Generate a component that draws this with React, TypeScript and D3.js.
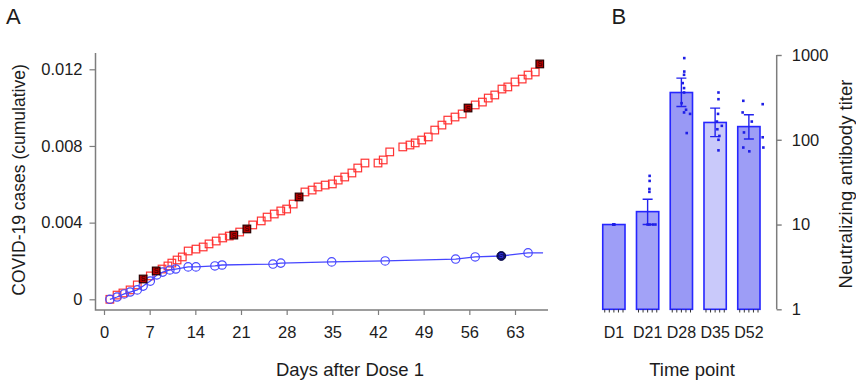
import { useRef, useEffect } from "react"
import * as d3 from "d3"

const WIDTH = 856
const HEIGHT = 381
const FONT = "'Liberation Sans', Arial, Helvetica, sans-serif"
const INK = "#1c1c1c"
const AXIS = "#7d7d7d"

// ── Panel A: cumulative COVID-19 cases ───────────────────────────────────
const placeboDays = [
  0.9, 2.0, 2.9, 4.0, 5.1, 6.0, 7.1, 8.0, 8.9, 9.8, 10.4, 11.2, 12.0, 12.9,
  14.1, 15.2, 16.1, 17.2, 18.2, 19.2, 19.9, 20.8, 21.9, 22.8, 24.1, 25.0,
  26.1, 27.1, 28.0, 29.0, 29.9, 30.8, 31.9, 32.8, 33.9, 35.0, 35.9, 36.9,
  38.0, 38.9, 40.0, 42.0, 42.8, 43.8, 45.8, 46.9, 47.7, 48.7, 49.7, 50.7,
  51.8, 52.7, 53.8, 54.9, 55.8, 56.9, 58.0, 58.9, 59.9, 61.0, 61.9, 63.0,
  64.1, 65.0, 66.1, 66.8,
]
const placeboCases = [
  0.0, 0.00022, 0.00033, 0.00049, 0.00075, 0.00106, 0.00122, 0.00148,
  0.00158, 0.00174, 0.00189, 0.00205, 0.00221, 0.00252, 0.00262, 0.00273,
  0.00289, 0.00304, 0.0032, 0.0033, 0.00335, 0.00351, 0.00367, 0.00388,
  0.00409, 0.00429, 0.00445, 0.00461, 0.00471, 0.00497, 0.00534, 0.0056,
  0.0057, 0.00586, 0.00596, 0.00602, 0.00622, 0.00638, 0.00659, 0.00685,
  0.00711, 0.00711, 0.00727, 0.00769, 0.00795, 0.00805, 0.00816, 0.00831,
  0.00847, 0.00883, 0.00909, 0.00935, 0.00951, 0.00967, 0.00998, 0.01014,
  0.01029, 0.0105, 0.01066, 0.01097, 0.01108, 0.01134, 0.01149, 0.0117,
  0.01186, 0.01228,
]
const placeboSevereDays = [6.0, 8.0, 19.9, 21.9, 29.9, 55.8, 66.8]

const vaccineDays = [
  0.9, 2.0, 3.1, 4.0, 5.1, 6.0, 7.1, 8.1, 9.0, 10.1, 11.0, 12.9, 14.1, 17.0,
  18.1, 25.9, 27.1, 34.9, 43.1, 53.9, 56.9, 60.9, 65.0,
]
const vaccineCases = [
  0.0, 0.00012, 0.00028, 0.00038, 0.00049, 0.00069, 0.00095, 0.00127,
  0.00142, 0.00153, 0.00158, 0.00169, 0.00169, 0.00174, 0.00179, 0.00184,
  0.00189, 0.00195, 0.002, 0.0021, 0.00221, 0.00226, 0.00242,
]
const vaccineSevereDays = [60.9]
const followUpEnd = 67.3

const dayTicks = [0, 7, 14, 21, 28, 35, 42, 49, 56, 63]
const caseTicks = [0, 0.004, 0.008, 0.012]

// ── Panel B: neutralizing antibody titer ─────────────────────────────────
const timePoints = ["D1", "D21", "D28", "D35", "D52"]
const titerMean = [10, 14.2, 361, 160, 143]
const titerLow = [NaN, 10, 247, 109, 102]
const titerHigh = [NaN, 19.9, 534, 236, 197]
const titerTicks = [1, 10, 100, 1000]

const titersD1 = [10, 10, 10, 10, 10, 10]
const titersD21 = [37.5, 32.7, 26.3, 24.3, 10, 10, 10, 10]
const titersD28 = [919, 638, 584, 466, 407, 361, 270, 226, 210, 202, 120]
const titersD35 = [361, 301, 202, 164, 146, 133, 111, 100, 75]
const titersD52 = [288, 263, 210, 164, 122, 107, 81, 73, 81]
// horizontal jitter, as a fraction of the bar width
const jitterD1 = [0, 0, 0, 0, 0, 0]
const jitterD21 = [0.09, 0.09, 0.08, 0.08, 0, 0.09, 0.24, 0.35]
const jitterD28 = [0.13, 0.13, 0.12, 0.06, 0.12, 0.12, 0.01, 0.21, 0.12, 0.39, 0.24]
const jitterD35 = [0.15, 0.15, 0.13, 0.08, 0.3, 0.1, 0.19, 0.15, 0.15]
const jitterD52 = [-0.25, 0.62, -0.28, 0.13, -0.22, 0.62, -0.25, 0.02, 0.65]
const titerPoints = [titersD1, titersD21, titersD28, titersD35, titersD52]
const titerJitter = [jitterD1, jitterD21, jitterD28, jitterD35, jitterD52]
const barFills = ["#9e9ef7", "#a2a2f7", "#9999f5", "#c9c9fa", "#9d9df6"]

export default function App() {
  const svgRef = useRef<SVGSVGElement>(null)

  useEffect(() => {
    const svg = svgRef.current
    if (!svg) return
    const root = d3.select(svg)
    root.selectAll("*").remove()

    // ── Panel A scales ────────────────────────────────────────────────────
    const xA = d3.scaleLinear().domain([0, 63]).range([104, 515])
    const yA = d3.scaleLinear().domain([0, 0.012]).range([299.3, 69.3])
    const baseA = 310
    const leftA = 95.5

    // axes
    root.append("g")
      .attr("transform", `translate(0,${baseA})`)
      .call(d3.axisBottom(xA).tickValues(dayTicks).tickSize(5).tickPadding(11))
      .call((g) => g.select(".domain").remove())
      .call((g) => g.selectAll(".tick line").attr("stroke", AXIS).attr("stroke-width", 1.2))
      .call((g) => g.selectAll("text")
        .attr("fill", INK).attr("font-size", 16.5).attr("font-family", FONT))

    root.append("g")
      .attr("transform", `translate(${leftA},0)`)
      .call(d3.axisLeft(yA).tickValues(caseTicks).tickSize(6).tickPadding(7)
        .tickFormat((d) => (+d === 0 ? "0" : d3.format(".3f")(+d))))
      .call((g) => g.select(".domain").remove())
      .call((g) => g.selectAll(".tick line").attr("stroke", AXIS).attr("stroke-width", 1.2))
      .call((g) => g.selectAll("text")
        .attr("fill", INK).attr("font-size", 16.5).attr("font-family", FONT))

    root.append("path")
      .attr("d", `M${leftA},53V${baseA}H548`)
      .attr("fill", "none")
      .attr("stroke", AXIS)
      .attr("stroke-width", 1.5)

    // placebo squares
    const placebo = placeboDays.map((d, i) => ({
      day: d, value: placeboCases[i], severe: placeboSevereDays.includes(d),
    }))
    const SQ = 7.6
    root.append("g")
      .selectAll("rect")
      .data(placebo.filter((p) => !p.severe))
      .join("rect")
      .attr("x", (p) => xA(p.day) - SQ / 2)
      .attr("y", (p) => yA(p.value) - SQ / 2)
      .attr("width", SQ).attr("height", SQ)
      .attr("fill", "none")
      .attr("stroke", "#ff3434")
      .attr("stroke-width", 1.2)

    // vaccine line + circles
    const vaccine = vaccineDays.map((d, i) => ({
      day: d, value: vaccineCases[i], severe: vaccineSevereDays.includes(d),
    }))
    const line = d3.line<{ day: number; value: number }>()
      .x((p) => xA(p.day)).y((p) => yA(p.value))
    root.append("path")
      .datum([...vaccine, { day: followUpEnd, value: vaccineCases[vaccineCases.length - 1] }])
      .attr("d", line)
      .attr("fill", "none")
      .attr("stroke", "#4646ff")
      .attr("stroke-width", 1.3)

    root.append("g")
      .selectAll("circle")
      .data(vaccine.filter((p) => !p.severe))
      .join("circle")
      .attr("cx", (p) => xA(p.day))
      .attr("cy", (p) => yA(p.value))
      .attr("r", 4.2)
      .attr("fill", "none")
      .attr("stroke", "#4a4aff")
      .attr("stroke-width", 1.2)

    // severe cases (filled, marked "S")
    const sev = root.append("g")
    placebo.filter((p) => p.severe).forEach((p) => {
      sev.append("rect")
        .attr("x", xA(p.day) - SQ / 2).attr("y", yA(p.value) - SQ / 2)
        .attr("width", SQ).attr("height", SQ)
        .attr("fill", "#b40000").attr("stroke", "#2a0000").attr("stroke-width", 1.2)
      sev.append("text")
        .attr("x", xA(p.day)).attr("y", yA(p.value) + 2.5)
        .attr("text-anchor", "middle").attr("font-size", 7).attr("font-family", FONT)
        .attr("fill", "#2a0000").text("S")
    })
    vaccine.filter((p) => p.severe).forEach((p) => {
      sev.append("circle")
        .attr("cx", xA(p.day)).attr("cy", yA(p.value)).attr("r", 4.4)
        .attr("fill", "#10106a").attr("stroke", "#000040").attr("stroke-width", 1)
      sev.append("text")
        .attr("x", xA(p.day)).attr("y", yA(p.value) + 2.5)
        .attr("text-anchor", "middle").attr("font-size", 7).attr("font-family", FONT)
        .attr("fill", "#3a3aff").text("S")
    })

    // titles
    root.append("text")
      .attr("x", 350).attr("y", 376)
      .attr("text-anchor", "middle").attr("font-size", 18.5)
      .attr("font-family", FONT).attr("fill", INK)
      .text("Days after Dose 1")
    root.append("text")
      .attr("transform", "translate(25,180) rotate(-90)")
      .attr("text-anchor", "middle").attr("font-size", 17.5)
      .attr("font-family", FONT).attr("fill", INK)
      .text("COVID-19 cases (cumulative)")
    root.append("text")
      .attr("x", 6).attr("y", 24)
      .attr("font-size", 22).attr("font-family", FONT).attr("fill", INK)
      .text("A")

    // ── Panel B ───────────────────────────────────────────────────────────
    const xB = d3.scaleBand<string>().domain(timePoints)
      .range([597, 765.75]).paddingInner(0.34).paddingOuter(0.17)
    const yB = d3.scaleLog().domain([1, 1000]).range([309.3, 55])
    const bw = xB.bandwidth()
    const rightB = 776.7

    const bars = root.append("g")
    timePoints.forEach((tp, i) => {
      const x0 = xB(tp) ?? 0
      const cx = x0 + bw / 2
      bars.append("rect")
        .attr("x", x0).attr("y", yB(titerMean[i]))
        .attr("width", bw).attr("height", yB(1) - yB(titerMean[i]))
        .attr("fill", barFills[i])
        .attr("stroke", "#2626ff").attr("stroke-width", 1.6)
      // comb ticks along bar base
      d3.range(5).forEach((k) => {
        const tx = x0 + 2 + k * ((bw - 4) / 4)
        bars.append("line")
          .attr("x1", tx).attr("x2", tx)
          .attr("y1", yB(1)).attr("y2", yB(1) + 3.2)
          .attr("stroke", "#333").attr("stroke-width", 1)
      })
      // error bar
      if (!Number.isNaN(titerLow[i])) {
        const cap = 5
        bars.append("path")
          .attr("d",
            `M${cx},${yB(titerLow[i])}V${yB(titerHigh[i])}` +
            `M${cx - cap},${yB(titerHigh[i])}H${cx + cap}` +
            `M${cx - cap},${yB(titerLow[i])}H${cx + cap}`)
          .attr("fill", "none").attr("stroke", "#2222ee").attr("stroke-width", 1.4)
      }
      // individual titers
      titerPoints[i].forEach((v, j) => {
        const px = cx + titerJitter[i][j] * bw
        bars.append("rect")
          .attr("x", px - 1.3).attr("y", yB(v) - 1.3)
          .attr("width", 2.6).attr("height", 2.6)
          .attr("fill", "#1e1ee6")
      })
      bars.append("text")
        .attr("x", cx).attr("y", 337.7)
        .attr("text-anchor", "middle").attr("font-size", 16)
        .attr("font-family", FONT).attr("fill", INK)
        .text(tp)
    })

    root.append("g")
      .attr("transform", `translate(${rightB},0)`)
      .call(d3.axisRight(yB).tickValues(titerTicks).tickSize(5).tickPadding(10)
        .tickFormat((d) => d3.format("d")(+d)))
      .call((g) => g.select(".domain").remove())
      .call((g) => g.selectAll(".tick line").attr("stroke", AXIS).attr("stroke-width", 1.4))
      .call((g) => g.selectAll("text")
        .attr("fill", INK).attr("font-size", 16.5).attr("font-family", FONT))
    root.append("line")
      .attr("x1", rightB).attr("x2", rightB)
      .attr("y1", yB(1000)).attr("y2", yB(1))
      .attr("stroke", AXIS).attr("stroke-width", 1.5)

    root.append("text")
      .attr("x", 692).attr("y", 376)
      .attr("text-anchor", "middle").attr("font-size", 18.5)
      .attr("font-family", FONT).attr("fill", INK)
      .text("Time point")
    root.append("text")
      .attr("transform", "translate(852,184) rotate(-90)")
      .attr("text-anchor", "middle").attr("font-size", 18.5)
      .attr("font-family", FONT).attr("fill", INK)
      .text("Neutralizing antibody titer")
    root.append("text")
      .attr("x", 611.5).attr("y", 24)
      .attr("font-size", 22).attr("font-family", FONT).attr("fill", INK)
      .text("B")
  }, [])

  return (
    <svg
      ref={svgRef}
      width={WIDTH}
      height={HEIGHT}
      style={{ position: "absolute", left: 0, top: 0, display: "block", background: "#fff" }}
    />
  )
}
